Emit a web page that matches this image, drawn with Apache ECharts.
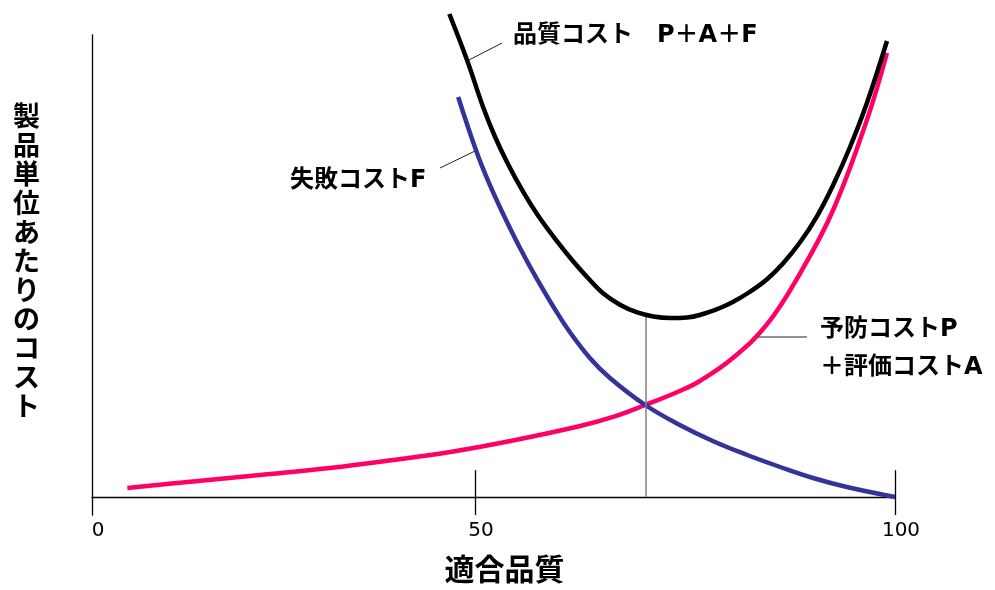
<!DOCTYPE html>
<html>
<head>
<meta charset="utf-8">
<script src="https://cdn.jsdelivr.net/npm/echarts@6/dist/echarts.min.js"></script>
<style>html,body{margin:0;padding:0;background:#fff;}#c{width:995px;height:590px;}</style>
</head>
<body>
<div id="c"></div>
<script>
// ---- data (x: drawn position along 適合品質 axis, y: relative cost) ----
var xTickPositions = [0, 47.7, 100];
var xTickLabels = ['0', '50', '100'];
var preventionX = [4.4, 12.6, 20.9, 29.6, 37.5, 44.6, 52.1, 60.8, 64.9, 68.9, 73.2, 75.7, 79.8, 84.1, 88.2, 92.3, 96.5, 99.0];
var preventionY = [1.95, 3.35, 4.76, 6.28, 8.01, 9.74, 12.12, 15.37, 17.32, 19.91, 22.94, 25.11, 30.09, 37.45, 48.48, 62.12, 81.6, 96.1];
var failureX = [45.6, 47.9, 49.6, 51.2, 53.3, 55.4, 57.4, 59.5, 62.0, 64.5, 68.9, 73.2, 77.3, 81.6, 85.7, 89.8, 94.0, 100];
var failureY = [86.58, 74.68, 67.32, 61.26, 53.9, 47.19, 41.34, 35.71, 30.09, 25.76, 19.91, 15.58, 12.12, 9.09, 6.49, 4.11, 2.16, 0];
var totalX = [44.5, 46.7, 48.7, 50.2, 51.8, 53.7, 55.5, 57.7, 60.1, 62.0, 63.6, 65.8, 67.9, 69.9, 72.0, 74.1, 76.1, 78.2, 79.8, 81.9, 84.1, 86.1, 88.2, 90.3, 92.3, 94.4, 96.5, 99.0];
var totalY = [104.55, 94.59, 84.42, 77.92, 72.08, 66.02, 61.04, 55.84, 50.65, 46.97, 44.16, 41.56, 39.94, 39.07, 38.74, 38.85, 39.61, 40.91, 42.21, 44.37, 47.19, 50.65, 55.19, 60.82, 67.53, 75.76, 85.28, 98.7];
var optimumX = 68.9;
var optimumTotal = 39.3;
var xTitle = '適合品質';
var yTitle = '製品単位あたりのコスト';
var totalLabel = '品質コスト　P＋A＋F';
var failureLabel = '失敗コストF';
var preventionLabel1 = '予防コストP';
var preventionLabel2 = '＋評価コストA';

function zip(xs, ys) { return xs.map(function (x, i) { return [x, ys[i]]; }); }

var JP = '"Noto Sans CJK JP", "Noto Sans", sans-serif';
var LBL = 'bold 24px "DejaVu Sans", "Noto Sans CJK JP", sans-serif';
var yMin = -3.9, yMax = 100, tickTop = 5.8;
var chart = echarts.init(document.getElementById('c'), null, {renderer: 'canvas'});
chart.setOption({
  animation: false,
  backgroundColor: '#fff',
  grid: {left: 92, right: 100, top: 35, bottom: 75, containLabel: false, outerBoundsMode: 'none'},
  xAxis: {
    type: 'value', min: 0, max: 100,
    axisLine: {onZero: true, lineStyle: {color: '#000', width: 1.3}},
    axisTick: {show: false},
    splitLine: {show: false},
    axisLabel: {
      margin: 6, color: '#000', fontSize: 20, fontFamily: '"DejaVu Sans", sans-serif',
      padding: [0, 0, 0, 12],
      customValues: xTickPositions,
      formatter: function (v) {
        var i = xTickPositions.indexOf(v);
        return i >= 0 ? xTickLabels[i] : '';
      }
    },
    name: xTitle, nameLocation: 'middle', nameGap: 39,
    nameTextStyle: {fontSize: 30, fontWeight: 'bold', fontFamily: JP, color: '#000', padding: [0, 0, 0, 22]}
  },
  yAxis: {
    type: 'value', min: yMin, max: yMax,
    axisLine: {show: true, lineStyle: {color: '#000', width: 1.3}},
    axisTick: {show: false}, axisLabel: {show: false}, splitLine: {show: false},
    name: yTitle.split('').join('\n') + '\n', nameLocation: 'middle', nameRotate: 0, nameGap: 52,
    nameTextStyle: {fontSize: 27, fontWeight: 'bold', fontFamily: JP, color: '#000', lineHeight: 29}
  },
  series: [
    {
      name: 'axisMarks', type: 'line', data: [], silent: true,
      markLine: {
        silent: true, symbol: 'none', label: {show: false},
        data: [
          [{coord: [xTickPositions[1], tickTop], lineStyle: {color: '#000', width: 1.3, type: 'solid'}}, {coord: [xTickPositions[1], yMin]}],
          [{coord: [xTickPositions[2], tickTop], lineStyle: {color: '#000', width: 1.3, type: 'solid'}}, {coord: [xTickPositions[2], yMin]}],
          [{coord: [optimumX, 0], lineStyle: {color: '#808080', width: 1.5, type: 'solid'}}, {coord: [optimumX, optimumTotal]}]
        ]
      }
    },
    {
      name: '予防コスト', type: 'line', data: zip(preventionX, preventionY), smooth: 0.4,
      showSymbol: false, clip: false, lineStyle: {color: '#ff0066', width: 4.5}, z: 3
    },
    {
      name: '失敗コスト', type: 'line', data: zip(failureX, failureY), smooth: 0.4,
      showSymbol: false, clip: false, lineStyle: {color: '#333399', width: 4.5}, z: 4
    },
    {
      name: '品質コスト', type: 'line', data: zip(totalX, totalY), smooth: 0.4,
      showSymbol: false, clip: false, lineStyle: {color: '#000', width: 4.5}, z: 5
    }
  ],
  graphic: [
    {type: 'line', shape: {x1: 467, y1: 61, x2: 502, y2: 43}, style: {stroke: '#222', lineWidth: 1}},
    {type: 'line', shape: {x1: 440, y1: 168, x2: 475, y2: 151}, style: {stroke: '#222', lineWidth: 1}},
    {type: 'line', shape: {x1: 753, y1: 337, x2: 807, y2: 337}, style: {stroke: '#222', lineWidth: 1}},
    {type: 'text', left: 513, top: 24, style: {text: totalLabel, font: LBL, fill: '#000'}},
    {type: 'text', left: 290, top: 169, style: {text: failureLabel, font: LBL, fill: '#000'}},
    {type: 'text', left: 820, top: 318, style: {text: preventionLabel1, font: LBL, fill: '#000'}},
    {type: 'text', left: 820, top: 356, style: {text: preventionLabel2, font: LBL, fill: '#000'}}
  ]
});
</script>
</body>
</html>
